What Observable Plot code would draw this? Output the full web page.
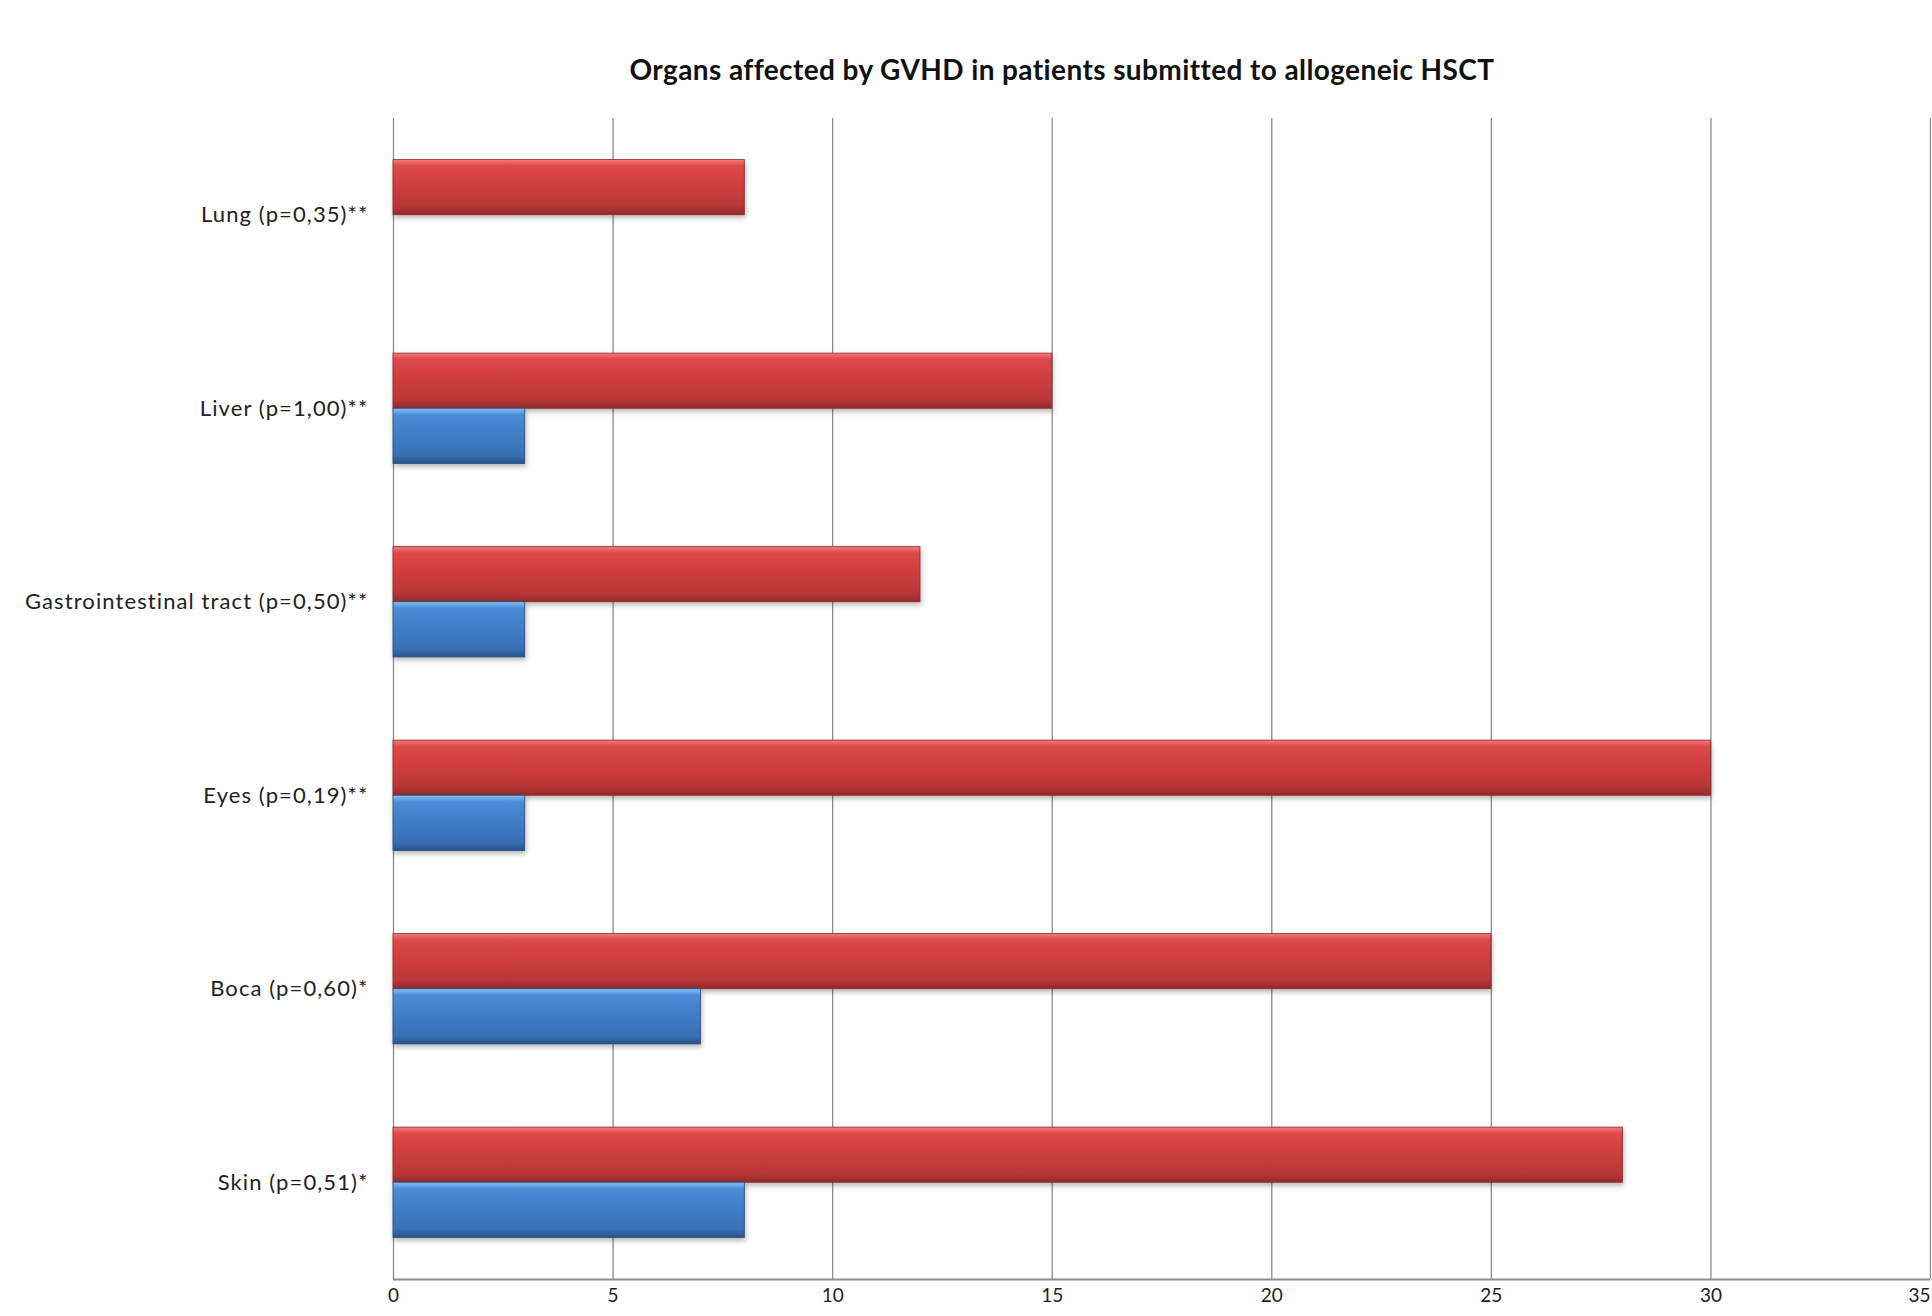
<!DOCTYPE html>
<html>
<head>
<meta charset="utf-8">
<script src="https://cdn.jsdelivr.net/npm/d3@7"></script>
<script src="https://cdn.jsdelivr.net/npm/@observablehq/plot@0.6"></script>
<style>
  html, body { margin: 0; padding: 0; background: #fff; overflow: hidden; }
  #title {
    width: 1932px; box-sizing: border-box; height: 100px;
    padding-left: 192px; padding-top: 50px;
    text-align: center; font-family: Lato, "Open Sans", sans-serif;
    font-weight: bold; font-size: 28px; letter-spacing: 0.4px; line-height: 38px; color: #111;
  }
</style>
</head>
<body>
<div id="title">Organs affected by GVHD in patients submitted to allogeneic HSCT</div>
<div id="chart"></div>
<script>
const categories = [
  "Lung (p=0,35)**",
  "Liver (p=1,00)**",
  "Gastrointestinal tract (p=0,50)**",
  "Eyes (p=0,19)**",
  "Boca (p=0,60)*",
  "Skin (p=0,51)*"
];
const redValues = [8, 15, 12, 30, 25, 28];
const blueValues = [0, 3, 3, 3, 7, 8];
const xTicks = [0, 5, 10, 15, 20, 25, 30, 35];

const barHalf = 0.285; // bar thickness in category units
const rows = categories.map((c, i) => ({i, c, red: redValues[i], blue: blueValues[i]}));
const yMax = categories.length - 0.5;

const chart = Plot.plot({
  width: 1932,
  height: 1216,
  marginTop: 18,
  marginBottom: 37,
  marginLeft: 393,
  marginRight: 2,
  style: {fontFamily: "Lato, 'Open Sans', sans-serif", fontSize: "22px", color: "#222", background: "white", overflow: "visible"},
  x: {domain: [0, 35], ticks: xTicks, tickSize: 0, tickPadding: 9, label: null},
  y: {domain: [-0.5, yMax], reverse: true, ticks: categories.map((c, i) => i), tickFormat: i => categories[i], tickSize: 0, tickPadding: 25, label: null},
  marks: [
    Plot.ruleX(xTicks, {stroke: "#8c8c8c", strokeWidth: 1.3}),
    Plot.ruleY([yMax], {stroke: "#8c8c8c", strokeWidth: 2}),
    Plot.rectX(rows, {x1: 0, x2: "red", y1: d => d.i - barHalf, y2: d => d.i, fill: "url(#gradRed)", stroke: "#8e2a2a", strokeWidth: 0.8}),
    Plot.rectX(rows.filter(d => d.blue > 0), {x1: 0, x2: "blue", y1: d => d.i, y2: d => d.i + barHalf, fill: "url(#gradBlue)", stroke: "#27497a", strokeWidth: 0.8})
  ]
});

const svg = d3.select(chart);
const defs = svg.insert("defs", ":first-child");
function grad(id, stops) {
  const g = defs.append("linearGradient").attr("id", id).attr("x1", 0).attr("y1", 0).attr("x2", 0).attr("y2", 1);
  stops.forEach(([o, c]) => g.append("stop").attr("offset", o).attr("stop-color", c));
}
grad("gradRed", [[0, "#f47a7a"], [0.12, "#dc4848"], [0.5, "#cd3d3d"], [0.85, "#b73636"], [1, "#8f2a2a"]]);
grad("gradBlue", [[0, "#86c2f5"], [0.12, "#4b8cd8"], [0.5, "#3f7cc6"], [0.85, "#3770b4"], [1, "#29528a"]]);
const f = defs.append("filter").attr("id", "shadow").attr("x", "-5%").attr("y", "-20%").attr("width", "110%").attr("height", "160%");
f.append("feDropShadow").attr("dx", 1).attr("dy", 3).attr("stdDeviation", 2.5).attr("flood-color", "#000").attr("flood-opacity", 0.28);
svg.selectAll('g[aria-label="rect"]').attr("filter", "url(#shadow)");
svg.selectAll('g[aria-label="y-axis"] text, g[aria-label="y-axis tick label"] text').attr("letter-spacing", "1.1px");
const xText = svg.selectAll('g[aria-label="x-axis"] text, g[aria-label="x-axis tick label"] text').attr("font-size", "19px").attr("fill", "#222");
const xNodes = xText.nodes();
if (xNodes.length) d3.select(xNodes[xNodes.length - 1]).attr("text-anchor", "end");

document.getElementById("chart").appendChild(chart);
</script>
</body>
</html>
